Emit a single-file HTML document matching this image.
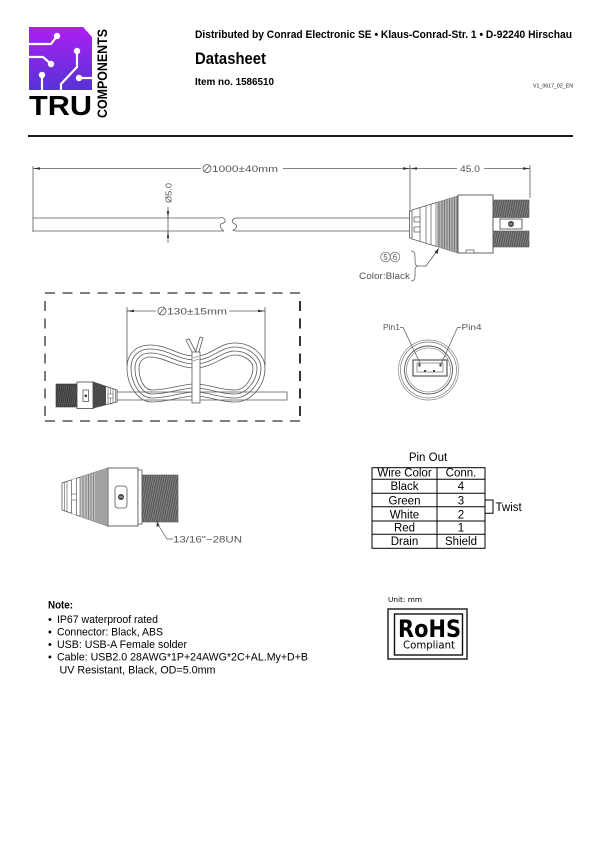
<!DOCTYPE html>
<html><head><meta charset="utf-8"><style>
html,body{margin:0;padding:0;background:#fff;}
svg{display:block;}
text{font-family:"Liberation Sans",Arial,sans-serif;}
</style></head><body>
<svg width="601" height="850" viewBox="0 0 601 850" xmlns="http://www.w3.org/2000/svg">
<defs>
<linearGradient id="pg" x1="0" y1="0" x2="0" y2="1">
<stop offset="0" stop-color="#ad1ff3"/>
<stop offset="1" stop-color="#5633d6"/>
</linearGradient>
<pattern id="thr" width="2.2" height="6" patternUnits="userSpaceOnUse" patternTransform="rotate(12)">
<rect width="2.2" height="6" fill="#5c5c5c"/>
<line x1="1.1" y1="0" x2="1.1" y2="6" stroke="#a0a0a0" stroke-width="0.5"/>
</pattern>
<pattern id="thr2" width="2" height="6" patternUnits="userSpaceOnUse" patternTransform="rotate(10)">
<rect width="2" height="6" fill="#3a3a3a"/>
<line x1="1" y1="0" x2="1" y2="6" stroke="#777" stroke-width="0.5"/>
</pattern>
<clipPath id="sr1"><polygon points="412,210 458,196 458,253 412,239"/></clipPath>
<clipPath id="sr2"><polygon points="62,483 108,468 108,526 62,510"/></clipPath>
<clipPath id="sr3"><polygon points="93,382 117,390 117,402 93,408"/></clipPath>
</defs>

<!-- LOGO -->
<path d="M29,27 H83 L92,37 V90 H29 Z" fill="url(#pg)"/>
<g stroke="#fff" stroke-width="2.2" fill="none" stroke-linejoin="round">
<polyline points="29,44 51,44 57,36"/>
<polyline points="29,57 43,57 51,64"/>
<polyline points="77,52 77,67 61,84 61,90"/>
<polyline points="42,75 42,90"/>
<polyline points="79,78 92,78"/>
</g>
<g fill="#fff">
<circle cx="57" cy="36" r="3.2"/>
<circle cx="51" cy="64" r="3.2"/>
<circle cx="77" cy="51" r="3.2"/>
<circle cx="42" cy="75" r="3.2"/>
<circle cx="79" cy="78" r="3.2"/>
</g>
<text x="29" y="115" font-size="28" font-weight="bold" textLength="63" lengthAdjust="spacingAndGlyphs" fill="#000">TRU</text>
<text transform="translate(107,118) rotate(-90)" font-size="14" font-weight="bold" textLength="89" lengthAdjust="spacingAndGlyphs" fill="#000">COMPONENTS</text>

<!-- HEADER -->
<text x="195" y="38" font-size="10.8" font-weight="bold" textLength="377" lengthAdjust="spacingAndGlyphs" fill="#000">Distributed by Conrad Electronic SE  •  Klaus-Conrad-Str. 1  •  D-92240 Hirschau</text>
<text x="195" y="64" font-size="16.5" font-weight="bold" textLength="71" lengthAdjust="spacingAndGlyphs" fill="#000">Datasheet</text>
<text x="195" y="85" font-size="10.2" font-weight="bold" textLength="79" lengthAdjust="spacingAndGlyphs" fill="#000">Item no. 1586510</text>
<text x="533" y="87.5" font-size="5.6" textLength="40" lengthAdjust="spacingAndGlyphs" fill="#222">V1_0617_02_EN</text>
<rect x="28" y="135" width="545" height="2" fill="#1a1a1a"/>

<!-- TOP DRAWING -->
<g stroke="#5a5a5a" stroke-width="0.8" fill="none">
<line x1="33" y1="166" x2="33" y2="232"/>
<line x1="33" y1="168.5" x2="201" y2="168.5"/>
<line x1="283" y1="168.5" x2="410" y2="168.5"/>
<line x1="410" y1="165" x2="410" y2="236"/>
<line x1="410" y1="168.5" x2="457" y2="168.5"/>
<line x1="484" y1="168.5" x2="530" y2="168.5"/>
<line x1="530" y1="165" x2="530" y2="198"/>
<!-- cable -->
<path d="M33,218 H219 C226,216 227,223 222,223.5 C219,224 220,229 224,231 M33,231 H224"/>
<path d="M411,218 H237 C232,218 231,222 234,223.5 C238,225 237,229 233,230 C234,231 235,231 236,231 H411"/>
<line x1="168" y1="207" x2="168" y2="243"/>
</g>
<g fill="#333">
<polygon points="33,168.5 40,167.2 40,169.8"/>
<polygon points="410,168.5 403,167.2 403,169.8"/>
<polygon points="410,168.5 417,167.2 417,169.8"/>
<polygon points="530,168.5 523,167.2 523,169.8"/>
<polygon points="168,218 166.8,211 169.2,211"/>
<polygon points="168,231 166.8,238 169.2,238"/>
</g>
<circle cx="207" cy="168.5" r="4" fill="none" stroke="#555" stroke-width="0.8"/>
<line x1="204" y1="172" x2="210" y2="165" stroke="#555" stroke-width="0.8"/>
<text x="212" y="172" font-size="9.5" fill="#555" textLength="66" lengthAdjust="spacingAndGlyphs">1000±40mm</text>
<text x="460" y="172" font-size="9.5" fill="#555" textLength="20" lengthAdjust="spacingAndGlyphs">45.0</text>
<text transform="translate(171.5,203) rotate(-90)" font-size="8.5" fill="#555" textLength="20" lengthAdjust="spacingAndGlyphs">Ø5.0</text>

<!-- top connector -->
<rect x="409.5" y="211" width="3" height="27" fill="#fff" stroke="#5a5a5a" stroke-width="0.8"/>
<polygon points="412,210 458,196 458,253 412,239" fill="#fff" stroke="#5a5a5a" stroke-width="0.8"/>
<g clip-path="url(#sr1)">
<rect x="437" y="190" width="21" height="70" fill="#b5b5b5"/>
<g stroke="#5a5a5a" stroke-width="0.7">
<line x1="420" y1="190" x2="420" y2="260"/>
<line x1="426" y1="190" x2="426" y2="260"/>
<line x1="431" y1="190" x2="431" y2="260"/>
<line x1="436" y1="190" x2="436" y2="260"/>
<line x1="439" y1="190" x2="439" y2="260"/>
<line x1="442" y1="190" x2="442" y2="260"/>
<line x1="444.5" y1="190" x2="444.5" y2="260"/>
<line x1="447" y1="190" x2="447" y2="260"/>
<line x1="449.5" y1="190" x2="449.5" y2="260"/>
<line x1="452" y1="190" x2="452" y2="260"/>
<line x1="454.5" y1="190" x2="454.5" y2="260"/>
<line x1="457" y1="190" x2="457" y2="260"/>
</g>
</g>
<rect x="414" y="217" width="6" height="5" fill="#fff" stroke="#5a5a5a" stroke-width="0.7"/>
<rect x="414" y="227" width="6" height="5" fill="#fff" stroke="#5a5a5a" stroke-width="0.7"/>
<rect x="458" y="195" width="35" height="58" fill="#fff" stroke="#555" stroke-width="0.9"/>
<rect x="466" y="250" width="8" height="3" fill="#fff" stroke="#555" stroke-width="0.7"/>
<rect x="493" y="200" width="36" height="17.5" fill="url(#thr)" stroke="#555" stroke-width="0.6"/>
<rect x="493" y="231" width="36" height="16" fill="url(#thr)" stroke="#555" stroke-width="0.6"/>
<line x1="493" y1="217" x2="493" y2="231" stroke="#555" stroke-width="0.8"/>
<rect x="500" y="219" width="22" height="10" fill="#fff" stroke="#444" stroke-width="0.8"/>
<circle cx="511" cy="224" r="3" fill="#444"/>
<line x1="509.5" y1="224" x2="512.5" y2="224" stroke="#fff" stroke-width="0.8"/>

<!-- callout -->
<circle cx="385.5" cy="257" r="4.8" fill="none" stroke="#666" stroke-width="0.7"/>
<circle cx="395" cy="257" r="4.8" fill="none" stroke="#666" stroke-width="0.7"/>
<text x="385.5" y="260" font-size="8" fill="#555" text-anchor="middle">5</text>
<text x="395" y="260" font-size="8" fill="#555" text-anchor="middle">6</text>
<text x="359" y="279" font-size="9.5" fill="#555" textLength="51" lengthAdjust="spacingAndGlyphs">Color:Black</text>
<path d="M411,251 C416,251 415,257 415,261 C415,264 416,266 418,266 C416,266 415,268 415,271 C415,276 416,281 411,281" fill="none" stroke="#666" stroke-width="0.8"/>
<polyline points="418,266 426,266 437,251" fill="none" stroke="#555" stroke-width="0.8"/>
<polygon points="439,248 434.5,252 437.5,254" fill="#333"/>

<!-- DASHED BOX -->
<g stroke="#333" fill="none" stroke-dasharray="10,7.5">
<line x1="45" y1="293" x2="300" y2="293" stroke-width="1.3"/>
<line x1="45" y1="421" x2="300" y2="421" stroke-width="1.3"/>
<line x1="45" y1="301" x2="45" y2="421" stroke-width="1.3"/>
<line x1="300" y1="301" x2="300" y2="421" stroke-width="2"/>
</g>

<!-- 130 dim -->
<g stroke="#5a5a5a" stroke-width="0.8" fill="none">
<line x1="127" y1="307" x2="127" y2="366"/>
<line x1="265" y1="307" x2="265" y2="366"/>
<line x1="127" y1="311" x2="156" y2="311"/>
<line x1="229" y1="311" x2="265" y2="311"/>
</g>
<polygon points="127,311 134,309.8 134,312.2" fill="#333"/>
<polygon points="265,311 258,309.8 258,312.2" fill="#333"/>
<circle cx="162" cy="311" r="4" fill="none" stroke="#555" stroke-width="0.8"/>
<line x1="159" y1="314.5" x2="165" y2="307.5" stroke="#555" stroke-width="0.8"/>
<text x="167" y="314.5" font-size="9.5" fill="#555" textLength="60" lengthAdjust="spacingAndGlyphs">130±15mm</text>

<!-- cable from connector -->
<g stroke="#5a5a5a" stroke-width="0.8" fill="none">
<path d="M117,392 H287 V400 H117"/>
<path d="M127,368 C127,352 138,345 150,345 C168,345 178,356 195,356 C212,356 218,343 235,343 C252,343 265,355 265,368 C265,385 252,402 235,402 C218,402 210,396 195,396 C180,396 170,402 152,402 C138,402 127,385 127,368 Z"/>
<path d="M131,368 C131,355 140,349 150,349 C168,349 178,360 195,360 C212,360 220,347 235,347 C249,347 261,357 261,368 C261,382 249,398 235,398 C218,398 210,392 195,392 C180,392 170,398 152,398 C140,398 131,383 131,368 Z"/>
<path d="M135,368 C135,358 142,353 150,353 C166,353 178,364 195,364 C212,364 222,351 235,351 C246,351 257,359 257,368 C257,380 247,394 235,394 C218,394 210,388 195,388 C180,388 170,394 152,394 C142,394 135,381 135,368 Z"/>
<path d="M139,368 C139,361 144,357 150,357 C164,357 178,368 195,368 C212,368 224,355 235,355 C244,355 253,361 253,368 C253,378 245,390 235,390 C218,390 210,384 195,384 C180,384 170,390 152,390 C144,390 139,379 139,368 Z"/>
</g>
<g stroke="#5a5a5a" stroke-width="0.8" fill="#fff">
<polygon points="186,340 189,339 197,354 194,356"/>
<polygon points="203,338 200,337 195,354 198,355"/>
<rect x="192" y="352" width="8" height="51"/>
</g>
<line x1="193" y1="358" x2="199" y2="356" stroke="#666" stroke-width="0.6"/>
<line x1="193" y1="361" x2="199" y2="359" stroke="#666" stroke-width="0.6"/>

<!-- left connector -->
<rect x="56" y="384" width="21" height="23" fill="url(#thr2)" stroke="#333" stroke-width="0.6"/>
<rect x="77" y="382" width="16.5" height="26.5" fill="#fff" stroke="#444" stroke-width="0.8"/>
<rect x="83" y="390" width="5.5" height="11.5" fill="#fff" stroke="#444" stroke-width="0.7"/>
<circle cx="85.75" cy="395.75" r="1.3" fill="#333"/>
<polygon points="93,382 117,390 117,402 93,408" fill="#fff" stroke="#444" stroke-width="0.8"/>
<g clip-path="url(#sr3)">
<rect x="93" y="380" width="13" height="30" fill="#4a4a4a"/>
<g stroke="#555" stroke-width="0.6">
<line x1="108" y1="380" x2="108" y2="410"/>
<line x1="110.5" y1="380" x2="110.5" y2="410"/>
<line x1="113" y1="380" x2="113" y2="410"/>
<line x1="115.5" y1="380" x2="115.5" y2="410"/>
</g>
<rect x="108" y="394" width="5" height="4" fill="#fff" stroke="#555" stroke-width="0.5"/>
</g>

<!-- PIN CONNECTOR -->
<g fill="none">
<circle cx="428.5" cy="370" r="30" stroke="#888" stroke-width="0.7"/>
<circle cx="428.5" cy="370" r="28" stroke="#777" stroke-width="0.7"/>
<circle cx="428.5" cy="370" r="24" stroke="#555" stroke-width="0.9"/>
<circle cx="428.5" cy="370" r="22" stroke="#777" stroke-width="0.6"/>
</g>
<rect x="413" y="360" width="34" height="16" fill="#fff" stroke="#333" stroke-width="1"/>
<rect x="417" y="363" width="26" height="9" fill="none" stroke="#555" stroke-width="0.6"/>
<g fill="#444">
<rect x="418.5" y="363.5" width="2" height="3"/>
<rect x="439.5" y="363.5" width="2" height="3"/>
<rect x="424" y="370" width="2" height="2"/>
<rect x="433" y="370" width="2" height="2"/>
</g>
<text x="383" y="330" font-size="8.5" fill="#555" textLength="17" lengthAdjust="spacingAndGlyphs">Pin1</text>
<text x="461.5" y="330" font-size="8.5" fill="#555" textLength="20" lengthAdjust="spacingAndGlyphs">Pin4</text>
<polyline points="400,327.5 403,327.5 420,363" fill="none" stroke="#555" stroke-width="0.7"/>
<polyline points="461,327.5 457.5,327.5 441.5,363" fill="none" stroke="#555" stroke-width="0.7"/>

<!-- LOWER CONNECTOR -->
<polygon points="62,483 108,468 108,526 62,510" fill="#fff" stroke="#555" stroke-width="0.8"/>
<g clip-path="url(#sr2)">
<rect x="80" y="460" width="28" height="70" fill="#c4c4c4"/>
<g stroke="#555" stroke-width="0.6">
<line x1="64.5" y1="460" x2="64.5" y2="530"/>
<line x1="67" y1="460" x2="67" y2="530"/>
<line x1="71.5" y1="460" x2="71.5" y2="530"/>
<line x1="76.5" y1="460" x2="76.5" y2="530"/>
<line x1="80" y1="460" x2="80" y2="530"/>
<line x1="83" y1="460" x2="83" y2="530"/>
<line x1="86" y1="460" x2="86" y2="530"/>
<line x1="88.5" y1="460" x2="88.5" y2="530"/>
<line x1="91" y1="460" x2="91" y2="530"/>
<line x1="93.5" y1="460" x2="93.5" y2="530"/>
<line x1="96" y1="460" x2="96" y2="530"/>
<line x1="98" y1="460" x2="98" y2="530"/>
<line x1="100" y1="460" x2="100" y2="530"/>
<line x1="102" y1="460" x2="102" y2="530"/>
<line x1="104" y1="460" x2="104" y2="530"/>
<line x1="106" y1="460" x2="106" y2="530"/>
</g>
<rect x="71.5" y="460" width="5" height="34" fill="#fff" stroke="#555" stroke-width="0.6"/>
<rect x="71.5" y="500" width="5" height="30" fill="#fff" stroke="#555" stroke-width="0.6"/>
</g>
<rect x="108" y="468" width="30" height="58" fill="#fff" stroke="#555" stroke-width="0.9"/>
<rect x="138" y="470" width="4" height="54" fill="#fff" stroke="#555" stroke-width="0.8"/>
<rect x="115" y="486" width="12" height="22" rx="3" fill="#fff" stroke="#555" stroke-width="0.8"/>
<circle cx="121" cy="497" r="3" fill="#444"/>
<line x1="119.3" y1="497" x2="122.7" y2="497" stroke="#fff" stroke-width="0.8"/>
<rect x="142" y="475" width="36" height="47" fill="url(#thr)" stroke="#555" stroke-width="0.6"/>
<polyline points="157,523 167,539 173,539" fill="none" stroke="#555" stroke-width="0.7"/>
<polygon points="157,521 156.5,527 159.5,525.5" fill="#333"/>
<text x="173" y="542.5" font-size="9.5" fill="#555" textLength="69" lengthAdjust="spacingAndGlyphs">13/16"−28UN</text>

<!-- PIN OUT TABLE -->
<text x="428" y="461" font-size="11.5" fill="#000" text-anchor="middle">Pin Out</text>
<g stroke="#000" stroke-width="1" fill="none">
<rect x="372" y="467.7" width="113" height="80.6"/>
<line x1="437" y1="467.7" x2="437" y2="548.3"/>
<line x1="372" y1="479.3" x2="485" y2="479.3"/>
<line x1="372" y1="493.3" x2="485" y2="493.3"/>
<line x1="372" y1="506.7" x2="485" y2="506.7"/>
<line x1="372" y1="521" x2="485" y2="521"/>
<line x1="372" y1="534.3" x2="485" y2="534.3"/>
<polyline points="485,500 493,500 493,513.3 485,513.3"/>
</g>
<g font-size="11.5" fill="#000" text-anchor="middle">
<text x="404.5" y="476.7">Wire Color</text><text x="461" y="476.7">Conn.</text>
<text x="404.5" y="490">Black</text><text x="461" y="490">4</text>
<text x="404.5" y="504.3">Green</text><text x="461" y="504.3">3</text>
<text x="404.5" y="518.3">White</text><text x="461" y="518.3">2</text>
<text x="404.5" y="531.7">Red</text><text x="461" y="531.7">1</text>
<text x="404.5" y="545">Drain</text><text x="461" y="545">Shield</text>
</g>
<text x="495.5" y="511" font-size="11.5" fill="#000">Twist</text>

<!-- NOTE -->
<text x="48" y="608.5" font-size="10.8" font-weight="bold" fill="#000" textLength="25" lengthAdjust="spacingAndGlyphs">Note:</text>
<g font-size="10.8" fill="#000">
<text x="48" y="623">•</text>
<text x="57" y="623" textLength="101" lengthAdjust="spacingAndGlyphs">IP67 waterproof rated</text>
<text x="48" y="635.5">•</text>
<text x="57" y="635.5" textLength="106" lengthAdjust="spacingAndGlyphs">Connector: Black, ABS</text>
<text x="48" y="648">•</text>
<text x="57" y="648" textLength="130" lengthAdjust="spacingAndGlyphs">USB: USB-A Female solder</text>
<text x="48" y="660.5">•</text>
<text x="57" y="660.5" textLength="251" lengthAdjust="spacingAndGlyphs">Cable: USB2.0 28AWG*1P+24AWG*2C+AL.My+D+B</text>
<text x="59.5" y="673.5" textLength="156" lengthAdjust="spacingAndGlyphs">UV Resistant, Black, OD=5.0mm</text>
</g>

<!-- RoHS -->
<text x="388" y="602" font-size="7" fill="#000" textLength="34" lengthAdjust="spacingAndGlyphs" style="font-family:'DejaVu Sans','Liberation Sans',sans-serif">Unit: mm</text>
<rect x="388" y="609" width="79" height="50" fill="#fff" stroke="#333" stroke-width="1.6"/>
<rect x="394.5" y="614" width="68" height="41" fill="none" stroke="#111" stroke-width="1.4"/>
<text x="398" y="637" font-size="24" font-weight="bold" fill="#000" textLength="63" lengthAdjust="spacingAndGlyphs" style="font-family:'DejaVu Sans','Liberation Sans',sans-serif">RoHS</text>
<text x="403" y="648.5" font-size="11" fill="#000" textLength="52" lengthAdjust="spacingAndGlyphs" style="font-family:'DejaVu Sans','Liberation Sans',sans-serif">Compliant</text>
</svg>
</body></html>
